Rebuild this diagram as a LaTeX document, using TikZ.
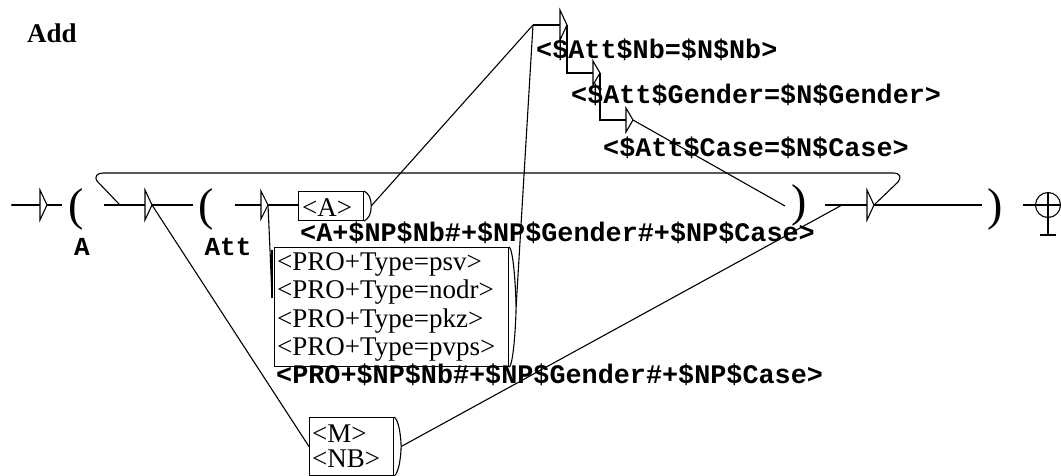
\documentclass[tikz,border=0pt]{standalone}
\usepackage{fontspec}
\setmainfont{Liberation Serif}
\newfontfamily\outfont{Liberation Mono}
\usetikzlibrary{calc}
\tikzset{
  ln/.style={line width=1.1pt, line join=miter},
  boxr/.style={draw, line width=1.1pt, inner sep=0, anchor=north west},
  lbl/.style={inner sep=0, anchor=base west, font=\fontsize{27}{29}\selectfont},
  outl/.style={inner sep=0, anchor=base west, font=\outfont\bfseries\fontsize{26.8}{28}\selectfont},
  varl/.style={inner sep=0, anchor=base, font=\outfont\bfseries\fontsize{26}{28}\selectfont},
  paren/.style={inner sep=0, anchor=base west, font=\fontsize{46}{50}\selectfont},
  title/.style={inner sep=0, anchor=base west, font=\bfseries\fontsize{27}{29}\selectfont},
}
% empty box: name, x, y, half height
\newcommand\emptybox[4]{%
  \coordinate (#1) at (#2,#3);
  \coordinate (#1tip) at (#2+7,#3);
  \draw[ln] (#2,#3-#4) -- (#2,#3+#4) -- (#1tip) -- cycle;}
% output bracket of a box: node name
\newcommand\bracket[1]{%
  \coordinate (#1out) at ($(#1.east)+(7,0)$);
  \draw[ln] (#1.north east) .. controls ($(#1.north east)+(5,3)$) and ($(#1out)+(0,-8)$) .. (#1out)
     .. controls ($(#1out)+(0,8)$) and ($(#1.south east)+(5,-3)$) .. (#1.south east);}
\begin{document}
\begin{tikzpicture}[x=1pt,y=-1pt]
\useasboundingbox (0,0) rectangle (1061,475);
\fill[white] (0,0) rectangle (1061,475);

\node[title] (add) at (27,42) {Add};

% initial state
\coordinate (init) at (12,205);
\fill (init) circle (1.2);
\emptybox{t0}{40}{205}{15}
\coordinate (pAin) at (62,205);
\draw[ln] (init) -- (t0);
\draw[ln] (t0tip) -- (pAin);

% ( A
\node[paren] (pA) at (68,220) {(};
\node[varl] (vA) at (82,255) {A};
\coordinate (pAout) at (104,205);
\emptybox{t1}{145}{205}{15}
\draw[ln] (pAout) -- (t1);
\coordinate (pBin) at (193,205);
\draw[ln] (t1tip) -- (pBin);

% ( Att
\node[paren] (pB) at (198,220) {(};
\node[varl] (vB) at (228,255) {Att};
\coordinate (pBout) at (235,205);
\emptybox{t2}{261}{205}{14}
\draw[ln] (pBout) -- (t2);

% <A> box
\node[boxr, minimum width=65, minimum height=29] (bA) at (298,191) {};
\node[lbl] (tA) at (302,216) {<A>};
\bracket{bA}
\draw[ln] (t2tip) -- (bA.west |- t2tip);
\node[outl] (oA) at (300,241) {<A+\$NP\$Nb\#+\$NP\$Gender\#+\$NP\$Case>};

% PRO box
\node[boxr, minimum width=234, minimum height=119] (bP) at (274,247) {};
\node[lbl] (tP1) at (277,270) {<PRO+Type=psv>};
\node[lbl] (tP2) at (277,298.5) {<PRO+Type=nodr>};
\node[lbl] (tP3) at (277,327) {<PRO+Type=pkz>};
\node[lbl] (tP4) at (277,355) {<PRO+Type=pvps>};
\bracket{bP}
\coordinate (bPin) at (272,298);
\draw[ln] (t2tip) -- (270,250) -- (bPin);
\draw[line width=2.2pt] (272,250) -- (bPin);
\node[outl] (oP) at (276,383) {<PRO+\$NP\$Nb\#+\$NP\$Gender\#+\$NP\$Case>};

% M / NB box
\node[boxr, minimum width=84, minimum height=58] (bM) at (309,417) {};
\node[lbl] (tM1) at (312,442) {<M>};
\node[lbl] (tM2) at (312,467) {<NB>};
\bracket{bM}
\draw[ln] (t1tip) -- (bM.west);

% top chain of empty boxes
\coordinate (u1in) at (533,25);
\emptybox{u1}{560}{25}{15}
\draw[ln] (u1in) -- (u1);
\draw[ln] (bAout) -- (u1in);
\draw[ln] (bPout) -- (u1in);
\node[outl] (o1) at (536,58) {<\$Att\$Nb=\$N\$Nb>};
\emptybox{u2}{593}{73}{12}
\draw[ln] (u1tip) -- (567,73) -- (u2);
\node[outl] (o2) at (571,103) {<\$Att\$Gender=\$N\$Gender>};
\emptybox{u3}{626}{120}{12}
\draw[ln] (u2tip) -- (600,120) -- (u3);
\node[outl] (o3) at (603,156) {<\$Att\$Case=\$N\$Case>};

% ) closing
\coordinate (pCin) at (785,206);
\draw[ln] (u3tip) -- (pCin);
\node[paren] (pC) at (791,216) {)};
\coordinate (pCout) at (825,205);
\emptybox{t3}{867}{205}{15}
\draw[ln] (pCout) -- (t3);
\coordinate (mEnd) at (842,205);
\draw[ln] (bMout) -- (mEnd);

% loop back
\coordinate (loopEnd) at (119,204);
\draw[ln] (t3tip) -- (898,182) .. controls (902,177) and (900,173) .. (893,173)
  -- (103,173) .. controls (97,173) and (94,177) .. (97,181) -- (loopEnd);

% final ) and final state
\coordinate (pDin) at (982,205);
\draw[ln] (t3tip) -- (pDin);
\node[paren] (pD) at (987,220) {)};
\coordinate (pDout) at (1023,205);
\node[circle, draw, line width=1.1pt, minimum size=25, inner sep=0] (fin) at (1048,205) {};
\draw[ln] (pDout) -- (fin.east);
\draw[ln] (fin.north) -- (1048,235);
\draw[ln] (1040,235) -- (1056,235);
\end{tikzpicture}
\end{document}
